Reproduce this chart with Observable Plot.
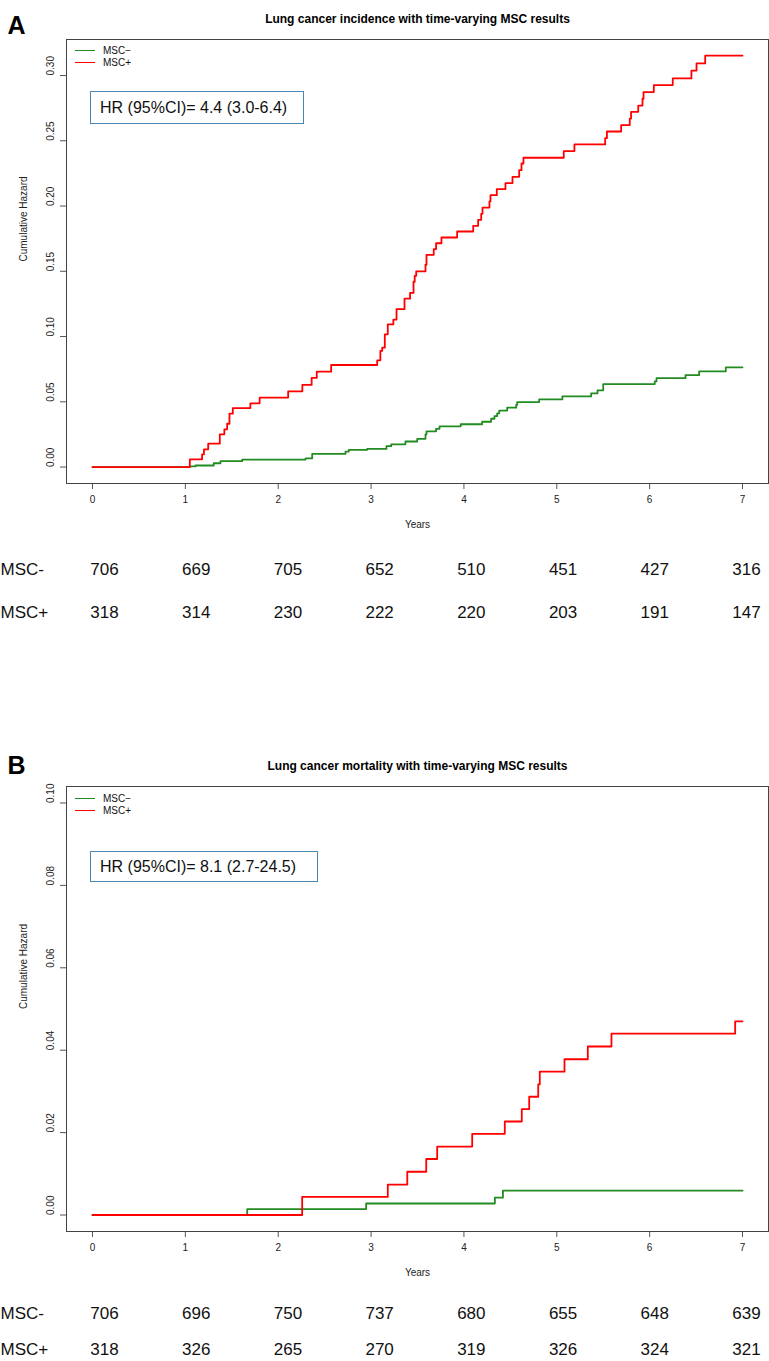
<!DOCTYPE html>
<html><head><meta charset="utf-8">
<script src="https://cdn.jsdelivr.net/npm/d3@7"></script>
<script src="https://cdn.jsdelivr.net/npm/@observablehq/plot@0.6"></script>
<style>
body{margin:0;background:#fff;font-family:"Liberation Sans",Arial,Helvetica,sans-serif;}
#root{position:relative;width:769px;height:1361px;overflow:hidden;background:#fff;}
#root svg{display:block;}
.hr{position:absolute;border:1.3px solid #4a86ad;font-size:16px;color:#111;box-sizing:border-box;padding-left:9px;white-space:nowrap;display:flex;align-items:center;}
.leg-line{position:absolute;height:0;width:20px;}
.leg-txt{position:absolute;font-size:10px;line-height:12px;color:#111;}
</style></head><body><div id="root"></div>
<script>
// ---------- data ----------
const years = [0, 1, 2, 3, 4, 5, 6, 7];
const yTicksA = [0, 0.05, 0.10, 0.15, 0.20, 0.25, 0.30];
const yTicksB = [0, 0.02, 0.04, 0.06, 0.08, 0.10];
const groups = ["MSC−", "MSC+"];
const riskRows = ["MSC-", "MSC+"];

// Panel A: incidence, MSC− (green)
const incNegT = [0, 1.048, 1.109, 1.306, 1.378, 1.612, 2.294, 2.366, 2.725, 2.76, 2.958, 3.166, 3.217, 3.37, 3.497, 3.586, 3.597, 3.70, 3.737, 3.966, 4.196, 4.293, 4.329, 4.358, 4.38, 4.466, 4.563, 4.574, 4.81, 5.06, 5.37, 5.438, 5.50, 6.055, 6.074, 6.386, 6.533, 6.82, 7.0];
const incNegV = [0, 0.0005, 0.0012, 0.0029, 0.0045, 0.0057, 0.0067, 0.0101, 0.0119, 0.0132, 0.0140, 0.0160, 0.0174, 0.0196, 0.0216, 0.0251, 0.0274, 0.0293, 0.0312, 0.0328, 0.0347, 0.0370, 0.0390, 0.0412, 0.0433, 0.0455, 0.0477, 0.0498, 0.0518, 0.0541, 0.0564, 0.0587, 0.0636, 0.0656, 0.0681, 0.0704, 0.0733, 0.0764, 0.0764];
// Panel A: incidence, MSC+ (red)
const incPosT = [0, 1.048, 1.18, 1.20, 1.246, 1.371, 1.42, 1.45, 1.475, 1.511, 1.70, 1.80, 2.107, 2.26, 2.36, 2.415, 2.57, 3.066, 3.10, 3.12, 3.148, 3.18, 3.24, 3.274, 3.36, 3.42, 3.457, 3.47, 3.486, 3.586, 3.597, 3.675, 3.70, 3.758, 3.927, 4.10, 4.153, 4.186, 4.20, 4.275, 4.286, 4.354, 4.447, 4.523, 4.595, 4.62, 4.641, 5.075, 5.19, 5.521, 5.54, 5.693, 5.786, 5.80, 5.877, 5.923, 5.934, 6.045, 6.249, 6.45, 6.505, 6.598, 7.0];
const incPosV = [0, 0.0059, 0.0097, 0.0136, 0.0179, 0.0251, 0.0289, 0.0332, 0.0409, 0.0452, 0.0488, 0.0532, 0.0580, 0.0629, 0.0683, 0.0731, 0.0782, 0.0818, 0.0890, 0.0915, 0.1017, 0.1094, 0.1130, 0.1210, 0.1290, 0.1334, 0.1420, 0.1465, 0.1500, 0.1550, 0.1626, 0.1670, 0.1715, 0.1759, 0.1805, 0.1848, 0.1894, 0.1940, 0.1988, 0.2035, 0.2083, 0.2130, 0.2176, 0.2224, 0.2275, 0.2326, 0.2370, 0.2421, 0.2472, 0.2520, 0.2571, 0.2620, 0.2670, 0.2722, 0.2770, 0.2822, 0.2873, 0.2927, 0.2978, 0.3037, 0.3093, 0.3152, 0.3152];

// Panel B: mortality, MSC− (green)
const morNegT = [0, 1.666, 2.947, 4.333, 4.42, 7.0];
const morNegV = [0, 0.00145, 0.0028, 0.0042, 0.0059, 0.0059];
// Panel B: mortality, MSC+ (red)
const morPosT = [0, 2.258, 3.18, 3.39, 3.594, 3.712, 4.089, 4.44, 4.623, 4.703, 4.80, 4.817, 5.083, 5.334, 5.589, 6.921, 7.0];
const morPosV = [0, 0.0044, 0.0074, 0.0105, 0.0136, 0.0166, 0.0197, 0.0227, 0.0257, 0.0287, 0.0317, 0.0348, 0.0378, 0.0409, 0.0440, 0.0470, 0.0470];

// Numbers at risk
const riskIncNeg = [706, 669, 705, 652, 510, 451, 427, 316];
const riskIncPos = [318, 314, 230, 222, 220, 203, 191, 147];
const riskMorNeg = [706, 696, 750, 737, 680, 655, 648, 639];
const riskMorPos = [318, 326, 265, 270, 319, 326, 324, 321];

const titleA = "Lung cancer incidence with time-varying MSC results";
const titleB = "Lung cancer mortality with time-varying MSC results";
const hrA = "HR (95%CI)= 4.4 (3.0-6.4)";
const hrB = "HR (95%CI)= 8.1 (2.7-24.5)";

// ---------- drawing ----------
const FONT = '"Liberation Sans", Arial, Helvetica, sans-serif';
const GREEN = "#228B22", RED = "#ff0000";
const toRows = (T, V) => T.map((t, i) => ({t, v: V[i]}));

function panel({letter, title, neg, pos, yDomain, yTicks, height, marginTop, marginBottom, titleDy, letterDy}) {
  return Plot.plot({
    width: 769, height, marginLeft: 66, marginRight: 1, marginTop, marginBottom,
    style: {fontFamily: FONT, fontSize: "10px", color: "#555", background: "#fff", overflow: "visible"},
    x: {domain: [-0.28, 7.28], ticks: years, tickSize: 6, tickFormat: () => "", label: null},
    y: {domain: yDomain, ticks: yTicks, tickSize: 6, tickFormat: () => "", label: null},
    marks: [
      Plot.frame({stroke: "#444"}),
      Plot.line(neg, {x: "t", y: "v", curve: "step-after", stroke: GREEN, strokeWidth: 1.8}),
      Plot.line(pos, {x: "t", y: "v", curve: "step-after", stroke: RED, strokeWidth: 1.8}),
      Plot.text(years, {x: d => d, frameAnchor: "bottom", dy: 19.8, text: d => String(d), fill: "#222", fontSize: 10}),
      Plot.text(yTicks, {y: d => d, frameAnchor: "left", dx: -16, rotate: -90, text: d => d.toFixed(2), fill: "#222", fontSize: 10}),
      Plot.text(["Years"], {frameAnchor: "bottom", dy: 44.6, text: d => d, fill: "#222", fontSize: 10}),
      Plot.text(["Cumulative Hazard"], {frameAnchor: "left", dx: -43, rotate: -90, text: d => d, fill: "#222", fontSize: 10}),
      Plot.text([title], {frameAnchor: "top", dy: titleDy, text: d => d, fontWeight: "bold", fontSize: 12, fill: "#000"}),
      Plot.text([letter], {frameAnchor: "top-left", textAnchor: "start", dx: -59, dy: letterDy, text: d => d, fontWeight: "bold", fontSize: 25, fill: "#000"})
    ]
  });
}

function riskTable(negVals, posVals, height, yRange) {
  const data = [];
  years.forEach((yr, i) => {
    data.push({x: yr, row: riskRows[0], n: negVals[i]});
    data.push({x: yr, row: riskRows[1], n: posVals[i]});
  });
  return Plot.plot({
    width: 769, height, marginLeft: 104, marginRight: 23, marginTop: 0, marginBottom: 0,
    style: {fontFamily: FONT, fontSize: "17px", color: "#111", background: "#fff", overflow: "visible"},
    x: {domain: [0, 7], axis: null},
    y: {type: "point", domain: riskRows, range: yRange, padding: 0, axis: null},
    marks: [
      Plot.text(data, {x: "x", y: "row", text: d => String(d.n), fontSize: 17, fill: "#111"}),
      Plot.text(riskRows, {y: d => d, frameAnchor: "left", textAnchor: "start", dx: -104, text: d => d, fontSize: 17, fill: "#111"})
    ]
  });
}

const root = document.getElementById("root");
root.appendChild(panel({
  letter: "A", title: titleA, neg: toRows(incNegT, incNegV), pos: toRows(incPosT, incPosV),
  yDomain: [-0.0126, 0.3276], yTicks: yTicksA, height: 540, marginTop: 39, marginBottom: 57,
  titleDy: -25, letterDy: -23
}));
root.appendChild(riskTable(riskIncNeg, riskIncPos, 100, [28.6, 71.9]));
root.appendChild(panel({
  letter: "B", title: titleB, neg: toRows(morNegT, morNegV), pos: toRows(morPosT, morPosV),
  yDomain: [-0.004, 0.104], yTicks: yTicksB, height: 650, marginTop: 146, marginBottom: 59,
  titleDy: -25, letterDy: -30
}));
root.appendChild(riskTable(riskMorNeg, riskMorPos, 71, [22.9, 59.5]));

// legends and HR boxes (overlay)
function legend(top) {
  [GREEN, RED].forEach((c, i) => {
    const y = top + i * 12;
    const ln = document.createElement("div");
    ln.className = "leg-line";
    ln.style.cssText = `left:75px;top:${y - 0.75}px;border-top:1.5px solid ${c};`;
    root.appendChild(ln);
    const tx = document.createElement("div");
    tx.className = "leg-txt";
    tx.style.cssText = `left:103px;top:${y - 6.5}px;`;
    tx.textContent = groups[i];
    root.appendChild(tx);
  });
}
function hrBox(text, left, top, w, h) {
  const b = document.createElement("div");
  b.className = "hr";
  b.style.cssText = `left:${left}px;top:${top}px;width:${w}px;height:${h}px;`;
  b.textContent = text;
  root.appendChild(b);
}
legend(51);
legend(799);
hrBox(hrA, 90, 91, 214, 33);
hrBox(hrB, 90, 851, 228, 31);
</script></body></html>
